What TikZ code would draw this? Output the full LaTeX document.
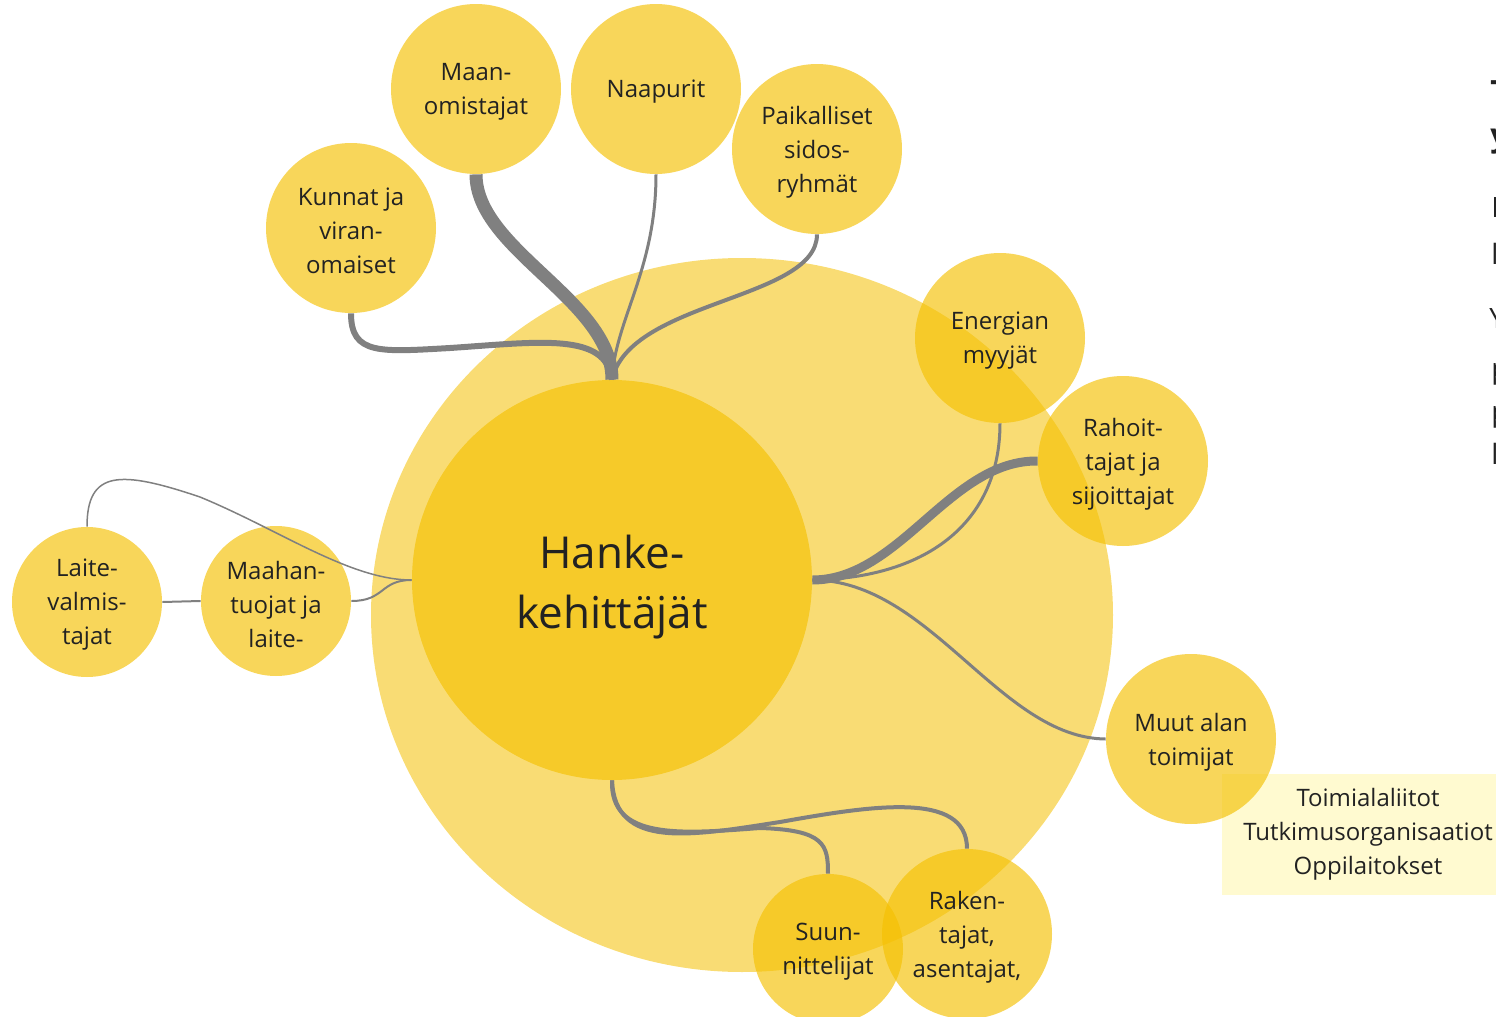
\documentclass[tikz,border=0pt]{standalone}
\usepackage{fontspec}
\setmainfont{Open Sans}
\definecolor{bubyellow}{RGB}{244,192,1}
\definecolor{linegray}{RGB}{128,128,128}
\definecolor{inktext}{RGB}{34,34,34}
\definecolor{notefill}{RGB}{255,250,208}
\tikzset{
  btxt/.style={align=center, text=inktext, inner sep=0pt, yshift=-1.5pt,
               font=\fontsize{12}{17}\selectfont},
  bub/.style={circle, fill=bubyellow, fill opacity=0.65, inner sep=0pt, minimum size=85pt,
              label={[btxt]center:#1}},
  smallbub/.style={bub=#1, minimum size=75pt},
  lnk/.style={draw=linegray, line cap=butt},
  cuttext/.style={anchor=base west, text=inktext, inner sep=0pt,
                  font=\fontsize{14}{17}\selectfont}}

\begin{document}
\begin{tikzpicture}[x=0.5pt, y=-0.5pt]
    \useasboundingbox (0,0) rectangle (1496,1017);
    \clip (0,0) rectangle (1496,1017);
    \fill[bubyellow, fill opacity=0.55] (742,615) ellipse [x radius=185.5pt, y radius=178.5pt];
    \node[circle, fill=bubyellow, fill opacity=0.65, inner sep=0pt, minimum size=200pt,
          label={[btxt, yshift=-2pt, font=\fontsize{22}{30}\selectfont]center:Hanke-\\kehittäjät}]
          (hanke) at (612,580) {};
    \node[bub={Maan-\\omistajat}] (maan) at (476,89) {};
    \node[bub={Naapurit}] (naap) at (656,89) {};
    \node[bub={Paikalliset\\sidos-\\ryhmät}] (paik) at (817,149) {};
    \node[bub={Kunnat ja\\viran-\\omaiset}] (kunn) at (351,228) {};
    \node[bub={Energian\\myyjät}] (energ) at (1000,338) {};
    \node[bub={Rahoit-\\tajat ja\\sijoittajat}] (rahoit) at (1123,461) {};
    \node[anchor=center, fill=notefill, text=inktext, align=center, inner sep=0pt,
          minimum width=146pt, minimum height=60.5pt, font=\fontsize{12}{17}\selectfont]
          (liitot) at (1368,834) {Toimialaliitot\\Tutkimusorganisaatiot\\Oppilaitokset};
    \node[bub={Muut alan\\toimijat}] (muut) at (1191,739) {};
    \node[smallbub={Laite-\\valmis-\\tajat}] (laite) at (87,602) {};
    \node[smallbub={Maahan-\\tuojat ja\\laite-}] (maahan) at (276,601) {};
    \node[smallbub={Suun-\\nittelijat}] (suun) at (828,949) {};
    \node[bub={Raken-\\tajat,\\asentajat,}] (raken) at (967,934) {};
    \draw[lnk, line width=6.5pt] (maan.south) .. controls (476,250) and (612,300) .. (hanke.north);
    \draw[lnk, line width=3pt] (kunn.south) .. controls (351,355) and (380,352) .. (450,348)
      .. controls (540,342) and (606,332) .. (hanke.north);
    \draw[lnk, line width=1.5pt] (naap.south) .. controls (656,270) and (615,320) .. (hanke.north);
    \draw[lnk, line width=2pt] (paik.south) .. controls (817,300) and (630,300) .. (hanke.north);
    \draw[lnk, line width=4.5pt] (hanke.east) .. controls (900,580) and (950,460) .. (rahoit.west);
    \draw[lnk, line width=1.5pt] (energ.south) .. controls (1000,520) and (930,578) .. (hanke.east);
    \draw[lnk, line width=1.5pt] (hanke.east) .. controls (930,580) and (1000,738) .. (muut.west);
    \draw[lnk, line width=1pt] (maahan.east) .. controls (385,601) and (380,580) .. (hanke.west);
    \draw[lnk, line width=0.75pt] (laite.north) .. controls (87,470) and (120,470) .. (200,497)
      .. controls (280,530) and (350,580) .. (hanke.west);
    \draw[lnk, line width=1pt] (laite.east) -- (maahan.west);
    \draw[lnk, line width=2pt] (hanke.south) .. controls (610,840) and (680,834) .. (760,828)
      .. controls (825,830) and (828,845) .. (suun.north);
    \draw[lnk, line width=2pt] (hanke.south) .. controls (615,850) and (690,836) .. (780,822)
      .. controls (870,806) and (967,790) .. (raken.north);
    \node[cuttext, font=\fontsize{16}{20}\bfseries] (hd1) at (1490,103) {T};
    \node[cuttext, font=\fontsize{16}{20}\bfseries] (hd2) at (1490,146) {y};
    \node[cuttext] (tx1) at (1491,217) {H};
    \node[cuttext] (tx2) at (1491,264) {l};
    \node[cuttext] (tx3) at (1489,328) {Y};
    \node[cuttext] (tx4) at (1491,378) {p};
    \node[cuttext] (tx5) at (1491,421) {p};
    \node[cuttext] (tx6) at (1491,464) {l};
  \end{tikzpicture}
\end{document}
